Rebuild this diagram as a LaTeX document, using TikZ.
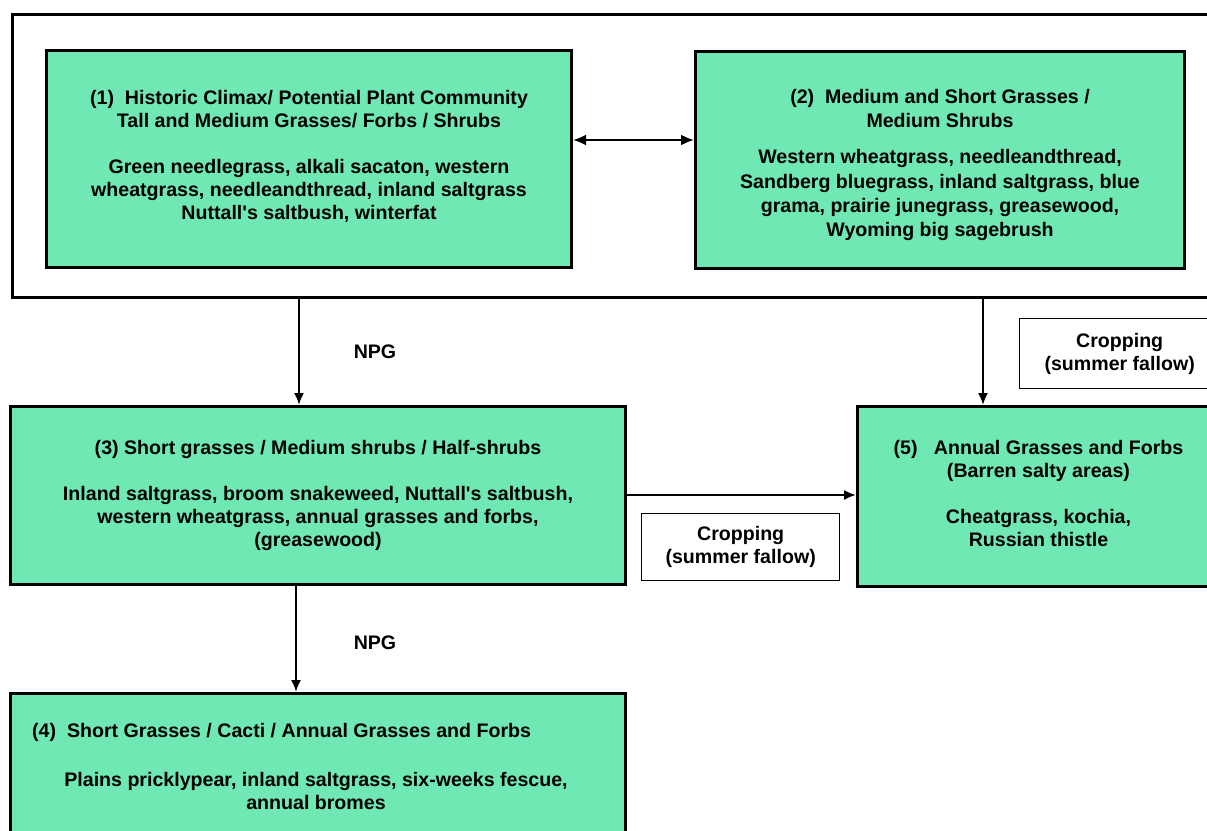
\documentclass[tikz,border=0pt]{standalone}
\usepackage{fontspec}
\setmainfont{Liberation Sans}
\usetikzlibrary{arrows.meta}
\definecolor{mint}{RGB}{112,232,180}
\newcommand{\apos}{\textquotesingle}
\tikzset{
  box/.style={draw=black, line width=3pt, fill=mint, inner sep=0pt, align=center, anchor=north west,
    font=\bfseries\fontsize{19.6}{23}\selectfont},
  lbl/.style={draw=black, line width=1.3pt, fill=white, inner sep=0pt, align=center, anchor=north west,
    font=\bfseries\fontsize{19.6}{23}\selectfont},
  txt/.style={font=\bfseries\fontsize{19.6}{23}\selectfont, inner sep=0pt, align=center},
  arr/.style={line width=2pt, -{Latex[length=12pt,width=10pt]}},
  darr/.style={line width=2.2pt, {Latex[length=13pt,width=11pt]}-{Latex[length=13pt,width=11pt]}},
}
\begin{document}
\begin{tikzpicture}[x=1pt,y=-1pt]
\clip (0,0) rectangle (1207,830);
\fill[white] (0,0) rectangle (1207,830);
% outer frame
\node[draw=black, line width=3pt, anchor=north west, minimum width=1219pt, minimum height=283pt, inner sep=0pt] (outer) at (11,13) {};
% boxes
\node[box, minimum width=525pt, minimum height=217pt] (b1) at (45,49) {};
\node[txt] (t1) at ([yshift=3pt]b1.center)
  {(1)\ \ Historic Climax/ Potential Plant Community\\
   Tall and Medium Grasses/ Forbs / Shrubs\\[23pt]
   Green needlegrass, alkali sacaton, western\\
   wheatgrass, needleandthread, inland saltgrass\\
   Nuttall\apos s saltbush, winterfat};
\node[box, minimum width=489pt, minimum height=217pt] (b2) at (694,50) {};
\node[txt, font=\bfseries\fontsize{19.6}{24.2}\selectfont] (t2) at ([yshift=-5pt]b2.center)
  {(2)\ \ Medium and Short Grasses /\\
   Medium Shrubs\\[12pt]
   Western wheatgrass, needleandthread,\\
   Sandberg bluegrass, inland saltgrass, blue\\
   grama, prairie junegrass, greasewood,\\
   Wyoming big sagebrush};
\node[box, minimum width=615pt, minimum height=178pt] (b3) at (9,405)
  {(3) Short grasses / Medium shrubs / Half-shrubs\\[23pt]
   Inland saltgrass, broom snakeweed, Nuttall\apos s saltbush,\\
   western wheatgrass, annual grasses and forbs,\\
   (greasewood)};
\node[box, minimum width=615pt, minimum height=170pt] (b4) at (9,692) {};
\node[txt, anchor=west] (t4a) at (32,732) {(4)\ \ Short Grasses / Cacti / Annual Grasses and Forbs};
\node[txt] (t4b) at (316,791) {Plains pricklypear, inland saltgrass, six-weeks fescue,\\ annual bromes};
\node[box, minimum width=362pt, minimum height=180pt] (b5) at (856,405) {};
\node[txt] (t5) at ([yshift=3pt]b5.center)
  {(5)\ \ \ Annual Grasses and Forbs\\
   (Barren salty areas)\\[23pt]
   Cheatgrass, kochia,\\
   Russian thistle};
% labels
\node[lbl, minimum width=200pt, minimum height=70pt] (c1) at (1019,318) {Cropping\\(summer fallow)};
\node[lbl, minimum width=198pt, minimum height=67pt] (c2) at (641,513) {Cropping\\(summer fallow)};
\node[txt] (n1) at (375,352) {NPG};
\node[txt] (n2) at (375,643) {NPG};
% connectors
\coordinate (x1) at (299,0);
\coordinate (x2) at (296,0);
\coordinate (x3) at (983,0);
\coordinate (y1) at (0,140);
\coordinate (y2) at (0,495);
\draw[darr] (b1.east |- y1) -- (b2.west |- y1);
\draw[arr] (outer.south -| x1) -- (b3.north -| x1);
\draw[arr] (b3.south -| x2) -- (b4.north -| x2);
\draw[arr] (outer.south -| x3) -- (b5.north -| x3);
\draw[arr] (b3.east |- y2) -- (b5.west |- y2);
\end{tikzpicture}
\end{document}
